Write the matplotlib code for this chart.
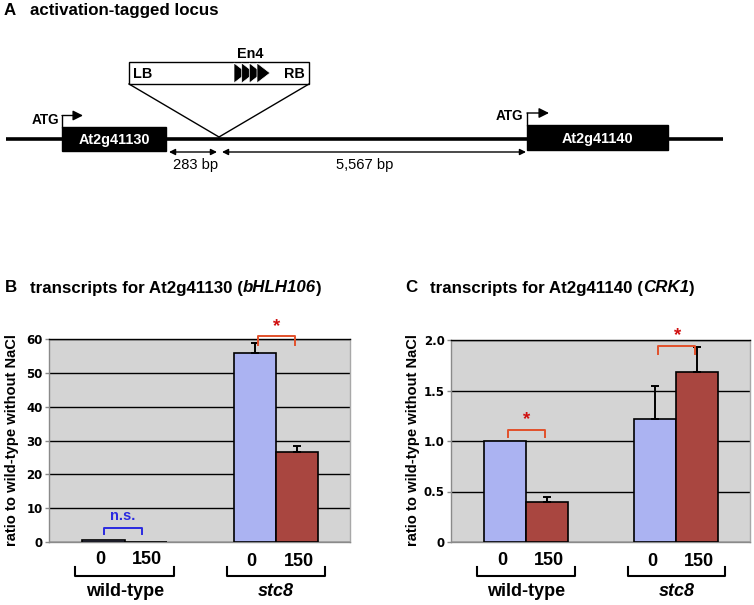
import matplotlib
matplotlib.use('Agg')
import matplotlib.pyplot as plt
from matplotlib.patches import Rectangle, Polygon, FancyArrowPatch
import matplotlib.transforms as mtrans

# ---------------- data ----------------
groups = ['wild-type', 'stc8']
group_style = ['normal', 'italic']
nacl_labels = ['0', '150']

b_vals_0 = [0.7, 56.0]
b_vals_150 = [0.05, 26.7]
b_err_0 = [0.0, 2.7]
b_err_150 = [0.0, 1.6]
b_yticks = [0, 10, 20, 30, 40, 50, 60]
b_ytick_labels = ['0', '10', '20', '30', '40', '50', '60']

c_vals_0 = [1.0, 1.22]
c_vals_150 = [0.40, 1.68]
c_err_0 = [0.0, 0.32]
c_err_150 = [0.05, 0.25]
c_yticks = [0, 0.5, 1.0, 1.5, 2.0]
c_ytick_labels = ['0', '0.5', '1.0', '1.5', '2.0']

# significance marks: (group index, label, bracket bottom, bracket top, label y)
b_sig = [(0, 'n.s.', 2.3, 4.05, 7.6), (1, '*', 58.1, 60.9, 63.6)]
c_sig = [(0, '*', 1.04, 1.11, 1.21), (1, '*', 1.86, 1.94, 2.04)]

# ---------------- style ----------------
W, H = 754, 605
BLUE = '#abb3f2'
RED = '#a94640'
BG = '#d4d4d4'
SPINE = '#8a8a8a'
STAR_BR = '#e2502a'
STAR = '#d01010'
NS = '#2a2ae0'
FONT = 'Liberation Sans'

fig = plt.figure(figsize=(W / 100, H / 100), dpi=100)
ov = fig.add_axes([0, 0, 1, 1])
ov.set_xlim(0, W)
ov.set_ylim(H, 0)
ov.axis('off')
ov.patch.set_alpha(0)


def rect_px(x0, y0, x1, y1):
    return [x0 / W, 1 - y1 / H, (x1 - x0) / W, (y1 - y0) / H]


renderer = fig.canvas.get_renderer()


def seq_text(x, y, pieces, size, weight='bold'):
    for s, style in pieces:
        t = ov.text(x, y, s, fontsize=size, fontweight=weight, fontstyle=style,
                    family=FONT, va='baseline', ha='left')
        x += t.get_window_extent(renderer).width


# ---------------- panel A (schematic) ----------------
seq_text(4, 15, [('A', 'normal')], 12.2)
seq_text(30, 15, [('activation-tagged locus', 'normal')], 12.2)

ov.plot([6, 723], [138.5, 138.5], color='black', lw=2.6, solid_capstyle='butt')
for (x0, y0, x1, y1, name) in [(62, 127, 166, 151, 'At2g41130'), (527, 125, 668, 150, 'At2g41140')]:
    ov.add_patch(Rectangle((x0, y0), x1 - x0, y1 - y0, facecolor='black', edgecolor='black'))
    ov.text((x0 + x1) / 2, y1 - 7, name, color='white', fontsize=10.4, fontweight='bold',
            family=FONT, ha='center', va='baseline')

# ATG arrows
for (x, ytop, ybend, xend, tx, tb) in [(62, 127, 115.5, 83, 59, 124), (527, 125, 113, 549, 523, 120.5)]:
    ov.plot([x, x], [ytop, ybend], color='black', lw=1)
    ov.add_patch(FancyArrowPatch((x, ybend), (xend, ybend), arrowstyle='-|>',
                                 mutation_scale=15, color='black', lw=1, shrinkA=0, shrinkB=0))
    ov.text(tx, tb, 'ATG', fontsize=9.8, fontweight='bold', family=FONT, ha='right', va='baseline')

# insert
ov.add_patch(Rectangle((129, 62), 180, 22, facecolor='white', edgecolor='black', lw=1))
ov.plot([129, 219], [84, 137], color='black', lw=1)
ov.plot([309, 219], [84, 137], color='black', lw=1)
for xs in [234, 241.7, 249.3, 257]:
    ov.add_patch(Polygon([(xs, 63), (xs, 83), (xs + 13, 73)], closed=True,
                         facecolor='black', edgecolor='white', lw=0.5))
ov.text(133, 78.5, 'LB', fontsize=10.4, fontweight='bold', family=FONT, ha='left', va='baseline')
ov.text(305, 78.5, 'RB', fontsize=10.4, fontweight='bold', family=FONT, ha='right', va='baseline')
ov.text(250, 57.5, 'En4', fontsize=10.4, fontweight='bold', family=FONT, ha='center', va='baseline')

# distances
for (x0, x1, label, tx) in [(169, 217, '283 bp', 196), (222, 526, '5,567 bp', 365)]:
    ov.add_patch(FancyArrowPatch((x0, 152), (x1, 152), arrowstyle='<|-|>',
                                 mutation_scale=9, color='black', lw=1, shrinkA=0, shrinkB=0))
    ov.text(tx, 168.5, label, fontsize=10.6, family=FONT, ha='center', va='baseline')


# ---------------- panels B and C ----------------
def bar_panel(rect, vals0, vals150, err0, err150, yticks, ylabels, ymax, sig,
              title_pieces, title_x, label_x, tick_base):
    ax = fig.add_axes(rect_px(*rect))
    ax.set_facecolor(BG)
    pos = list(range(len(groups)))
    off, bw = 0.14, 0.28
    x0s = [p - off for p in pos]
    x1s = [p + off for p in pos]
    ax.bar(x0s, vals0, width=bw, color=BLUE, edgecolor='black', lw=1.2, zorder=3)
    ax.bar(x1s, vals150, width=bw, color=RED, edgecolor='black', lw=1.2, zorder=3)
    for xs, vs, es in [(x0s, vals0, err0), (x1s, vals150, err150)]:
        for x, v, e in zip(xs, vs, es):
            if e > 0:
                ax.errorbar([x], [v], yerr=[[0], [e]], fmt='none', ecolor='black',
                            elinewidth=1.4, capsize=3, capthick=1.4, zorder=4, clip_on=False)
    ax.set_xlim(-0.5, 1.49)
    ax.set_ylim(0, ymax)
    ax.set_yticks(yticks)
    ax.set_yticklabels(ylabels, fontsize=8.5, fontweight='bold', family='DejaVu Sans')
    ax.set_xticks([])
    ax.tick_params(axis='y', length=3, width=1, color=SPINE, pad=1.5)
    ax.yaxis.grid(True, color='black', lw=1)
    ax.set_axisbelow(True)
    for s in ['left', 'bottom', 'right']:
        ax.spines[s].set_color(SPINE)
        ax.spines[s].set_linewidth(1)
    ax.spines['right'].set_color('#a8a8a8')
    ax.spines['top'].set_color('black')
    ax.spines['top'].set_linewidth(1)

    # significance brackets
    for gi, lab, ylo, yhi, ly in sig:
        if lab == 'n.s.':
            xa, xb, col = gi - 0.139, gi + 0.113, NS
        else:
            xa, xb, col = gi - 0.12, gi + 0.125, STAR_BR
        ax.plot([xa, xa, xb, xb], [ylo, yhi, yhi, ylo], color=col, lw=1.4,
                clip_on=False, zorder=5)
        if lab == 'n.s.':
            ax.text(gi - 0.01, ly, lab, color=NS, fontsize=10.5, fontweight='bold',
                    family=FONT, ha='center', va='center')
        else:
            ax.text(gi + 0.005, ly, lab, color=STAR, fontsize=13.5, fontweight='bold',
                    family=FONT, ha='center', va='center', clip_on=False)

    # x labels under the axis (overlay pixel y)
    bt = mtrans.blended_transform_factory(ax.transData, ov.transData)
    for gi, (xa, xb) in enumerate(zip(x0s, x1s)):
        yb = tick_base[gi]
        ov.text(xa - 0.02, yb, nacl_labels[0], transform=bt, fontsize=13, fontweight='bold',
                family=FONT, ha='center', va='baseline')
        ov.text(xb + 0.01, yb, nacl_labels[1], transform=bt, fontsize=13, fontweight='bold',
                family=FONT, ha='center', va='baseline')
        gl, gr = gi - 0.325, gi + 0.325
        ov.plot([gl, gl, gr, gr], [567, 576, 576, 567], color='black', lw=1.5, transform=bt)
        ov.text(gi, 595.5, groups[gi], transform=bt, fontsize=13, fontweight='bold',
                fontstyle=group_style[gi], family=FONT, ha='center', va='baseline')

    ov.text(label_x, 440, 'ratio to wild-type without NaCl', rotation=90, fontsize=10.6,
            fontweight='bold', family=FONT, ha='center', va='center')
    seq_text(title_x, 292.5, [(title_pieces[0], 'normal')], 12.2)
    seq_text(title_x + 25, 292.5, title_pieces[1:], 12.2)
    return ax


bar_panel((49, 339, 350, 542), b_vals_0, b_vals_150, b_err_0, b_err_150,
          b_yticks, b_ytick_labels, 60, b_sig,
          [('B'), ('transcripts for At2g41130 (', 'normal'), ('bHLH106', 'italic'), (')', 'normal')],
          5, 12.5, [564.5, 565.5])

bar_panel((451, 340, 750, 542), c_vals_0, c_vals_150, c_err_0, c_err_150,
          c_yticks, c_ytick_labels, 2.0, c_sig,
          [('C'), ('transcripts for At2g41140 (', 'normal'), ('CRK1', 'italic'), (')', 'normal')],
          405, 412.5, [565, 565.5])

fig.savefig('out.png', dpi=100)
